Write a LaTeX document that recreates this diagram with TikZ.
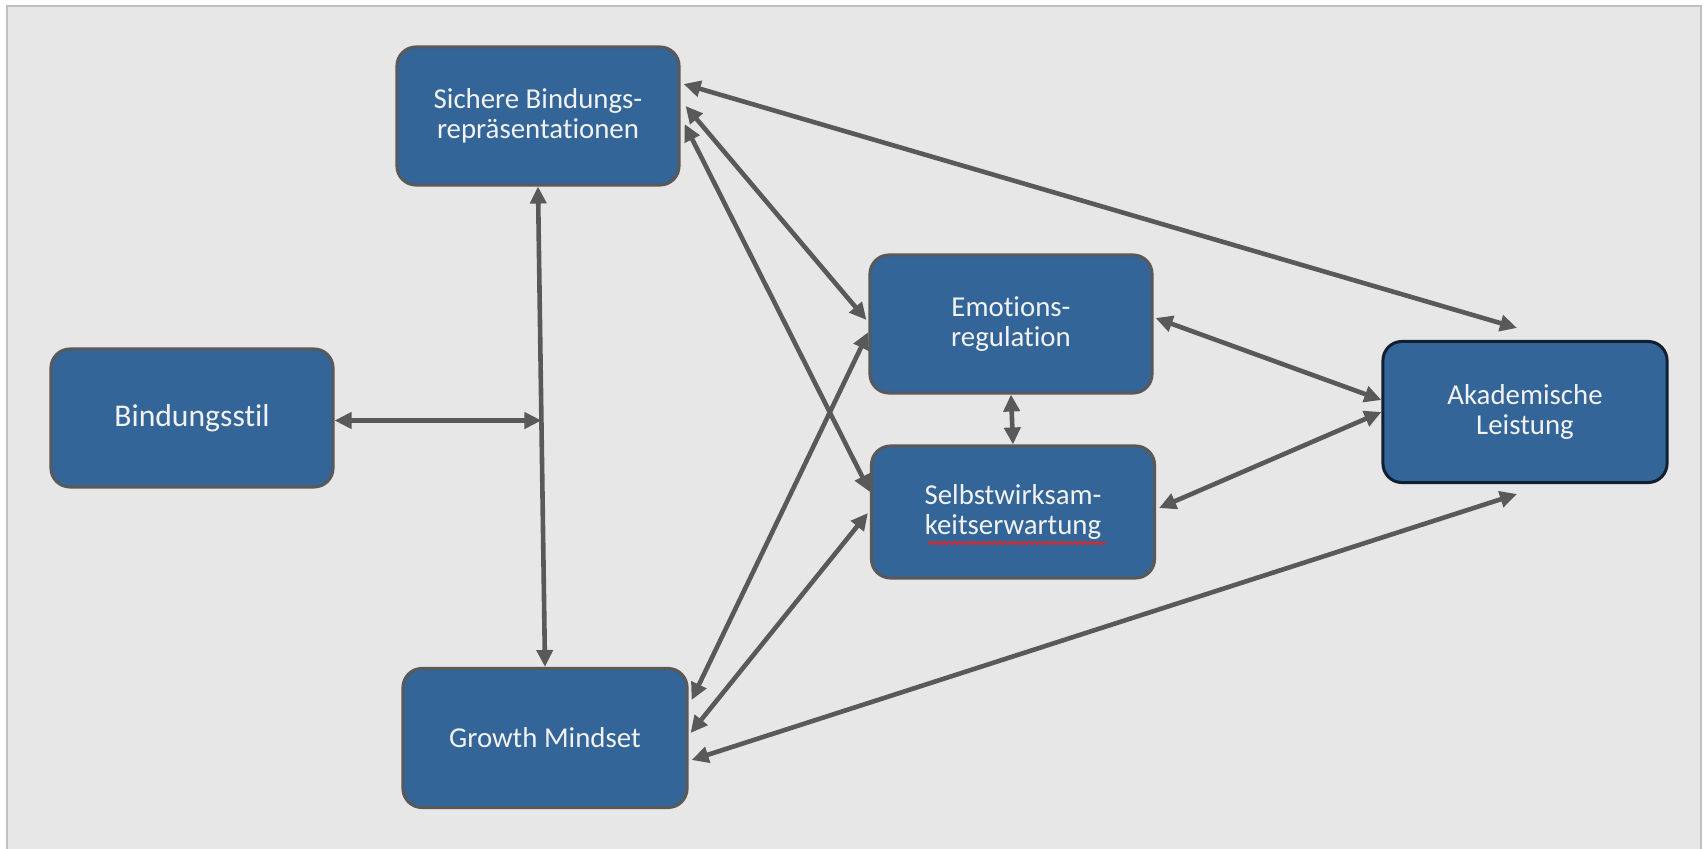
\documentclass[tikz,border=0pt]{standalone}
\usepackage{fontspec}
\setmainfont{Carlito}[Ligatures=NoCommon]
\usepackage{tikz}
\usetikzlibrary{positioning, calc, arrows.meta, decorations.pathmorphing}
\definecolor{boxblue}{RGB}{51,101,152}
\definecolor{linegrey}{RGB}{89,89,89}
\definecolor{panelgrey}{RGB}{231,231,231}
\definecolor{framegrey}{RGB}{192,192,192}
\definecolor{navyedge}{RGB}{16,32,48}
\definecolor{textwhite}{RGB}{242,242,242}
\definecolor{spellred}{RGB}{220,40,40}

\begin{document}
\begin{tikzpicture}[x=0.01cm, y=-0.01cm]
			\tikzstyle{box}=[rectangle, rounded corners=0.19cm, draw=linegrey, line width=0.03cm, fill=boxblue, text=textwhite, align=center, minimum width=2.82cm, minimum height=1.38cm, inner sep=0pt, font=\fontsize{8.2}{8.6}\selectfont]
			\tikzstyle{link}=[draw=linegrey, line width=0.046cm, {Triangle[length=0.17cm, width=0.16cm]}-{Triangle[length=0.17cm, width=0.16cm]}]
			%%
			\useasboundingbox (0,0) rectangle (1703,849);
			\fill[panelgrey] (7,6) rectangle (1701,849);
			\draw[framegrey, line width=0.02cm] (7,849) -- (7,6) -- (1701,6) -- (1701,849);
			
			\node (sbr) at (538,116) [box] {Sichere Bindungs-\\repräsentationen};
			\node (bst) at (192,418) [box, font=\fontsize{9}{10}\selectfont] {Bindungsstil};
			\node (gms) at (545,738) [box, minimum width=2.84cm, minimum height=1.39cm] {Growth Mindset};
			\node (emo) at (1011,324) [box] {Emotions-\\regulation};
			\node (swe) at (1013,512) [box, minimum width=2.83cm, minimum height=1.32cm] {Selbstwirksam-\\keitserwartung};
			\node (akl) at (1525,412) [box, draw=navyedge, minimum width=2.84cm, minimum height=1.41cm] {Akademische\\Leistung};
			
			\coordinate (jn) at ($(sbr.south)!0.487!(gms.north)$);
			\coordinate (aklt) at ($(akl.north)+(-8,-12)$);
			\coordinate (aklb) at ($(akl.south)+(-8,10)$);
			
			\draw[link] (sbr.south) -- (gms.north);
			\draw[link] (bst.east |- jn) -- (jn);
			\draw[link] ($(sbr.east)+(3,-32)$) -- (aklt);
			\draw[link] ($(sbr.east)+(5,-10)$) -- ($(emo.west)+(-2,-4)$);
			\draw[link] ($(sbr.east)+(4,8)$) -- ($(swe.west)+(0,-20)$);
			\draw[link] ($(gms.east)+(3,-38)$) -- ($(emo.west)+(0,8)$);
			\draw[link] ($(gms.east)+(2,-5)$) -- ($(swe.west)+(-2,1)$);
			\draw[link] ($(gms.east)+(3,22)$) -- (aklb);
			\draw[link] ($(emo.east)+(2,-6)$) -- ($(akl.west)+(0,-12)$);
			\draw[link] ($(swe.east)+(3,-4)$) -- (akl.west);
			\draw[link] (emo.south) -- (swe.north);
			
			\draw[spellred, line width=0.015cm, decorate, decoration={snake, amplitude=0.015cm, segment length=0.05cm}] ($(swe.center)+(-85,31)$) -- ($(swe.center)+(93,31)$);
\end{tikzpicture}
\end{document}
